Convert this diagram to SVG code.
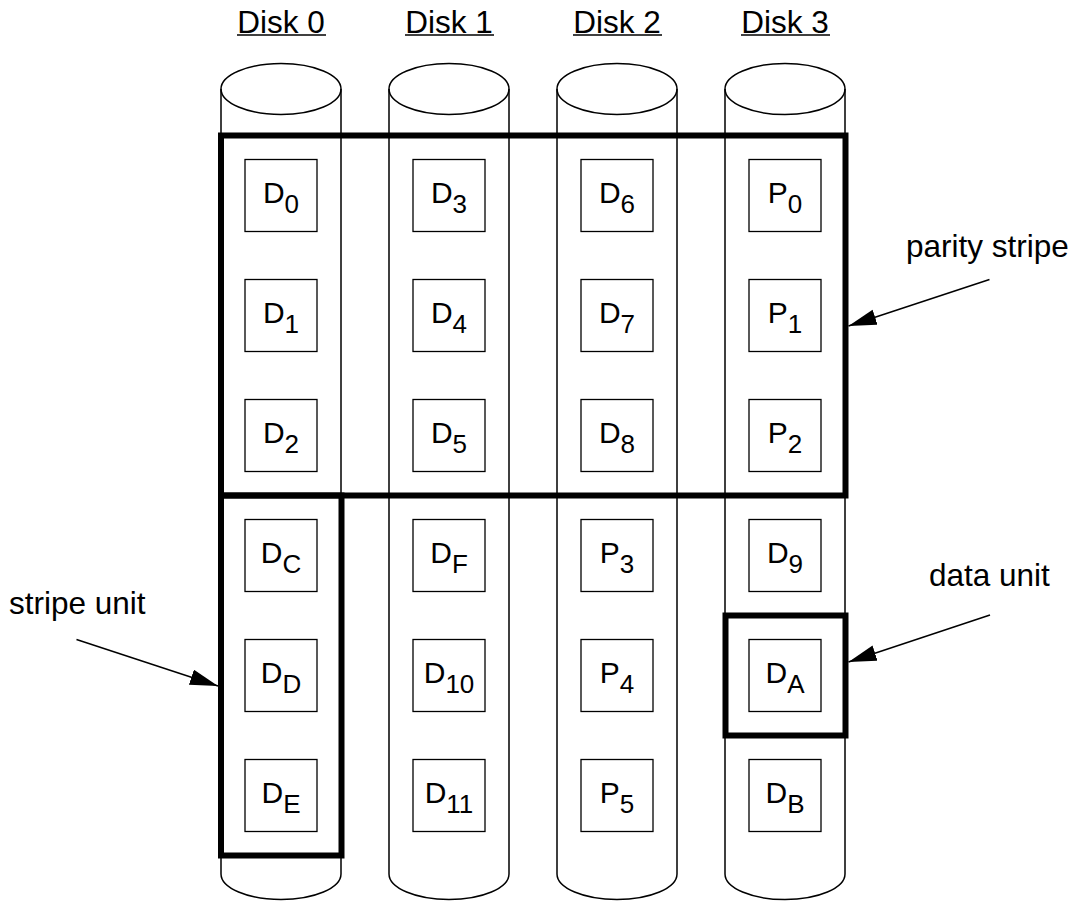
<svg xmlns="http://www.w3.org/2000/svg" width="1075" height="903" viewBox="0 0 1075 903">
<style>
  .cyl { fill: none; stroke: #000; stroke-width: 1.5; }
  .box { fill: #fff; stroke: #000; stroke-width: 1.3; }
  .thick { fill: none; stroke: #000; stroke-width: 6; stroke-linejoin: miter; }
  .lbl { font-family: "Liberation Sans", Arial, sans-serif; font-size: 31.5px; fill: #000; }
  .cell { font-family: "Liberation Sans", Arial, sans-serif; font-size: 30px; fill: #000; text-anchor: middle; }
  .sub { font-size: 26px; }
  .ul { stroke: #000; stroke-width: 1.5; }
  .arr { stroke: #000; stroke-width: 1.5; fill: none; marker-end: url(#ah); }
</style>
<defs>
  <marker id="ah" markerUnits="userSpaceOnUse" markerWidth="30" markerHeight="18" refX="28" refY="8" orient="auto">
    <path d="M0,0 L28,8 L0,16 z" fill="#000"/>
  </marker>
  <g id="cylinder">
    <ellipse cx="0" cy="89" rx="60" ry="25.5" class="cyl"/>
    <path d="M-60,89 V874 A60,25.5 0 0 0 60,874 V89" class="cyl"/>
  </g>
</defs>
<rect width="1075" height="903" fill="#fff"/>

<g id="disk0">
  <text class="lbl" x="281" y="33" text-anchor="middle">Disk 0</text>
  <line class="ul" x1="237" y1="35" x2="326" y2="35"/>
  <use href="#cylinder" x="281"/>
</g>
<g id="disk1">
  <text class="lbl" x="449" y="33" text-anchor="middle">Disk 1</text>
  <line class="ul" x1="405" y1="35" x2="494" y2="35"/>
  <use href="#cylinder" x="449"/>
</g>
<g id="disk2">
  <text class="lbl" x="617" y="33" text-anchor="middle">Disk 2</text>
  <line class="ul" x1="573" y1="35" x2="662" y2="35"/>
  <use href="#cylinder" x="617"/>
</g>
<g id="disk3">
  <text class="lbl" x="785" y="33" text-anchor="middle">Disk 3</text>
  <line class="ul" x1="741" y1="35" x2="830" y2="35"/>
  <use href="#cylinder" x="785"/>
</g>

<g id="cells">
  <!-- column 0 -->
  <g id="cell-D0"><rect class="box" x="245" y="159.5" width="72" height="72"/><text class="cell" x="281" y="202.5">D<tspan class="sub" dy="10">0</tspan></text></g>
  <g id="cell-D1"><rect class="box" x="245" y="279.5" width="72" height="72"/><text class="cell" x="281" y="322.5">D<tspan class="sub" dy="10">1</tspan></text></g>
  <g id="cell-D2"><rect class="box" x="245" y="399.5" width="72" height="72"/><text class="cell" x="281" y="442.5">D<tspan class="sub" dy="10">2</tspan></text></g>
  <g id="cell-DC"><rect class="box" x="245" y="519.5" width="72" height="72"/><text class="cell" x="281" y="562.5">D<tspan class="sub" dy="10">C</tspan></text></g>
  <g id="cell-DD"><rect class="box" x="245" y="639.5" width="72" height="72"/><text class="cell" x="281" y="682.5">D<tspan class="sub" dy="10">D</tspan></text></g>
  <g id="cell-DE"><rect class="box" x="245" y="759.5" width="72" height="72"/><text class="cell" x="281" y="802.5">D<tspan class="sub" dy="10">E</tspan></text></g>
  <!-- column 1 -->
  <g id="cell-D3"><rect class="box" x="413" y="159.5" width="72" height="72"/><text class="cell" x="449" y="202.5">D<tspan class="sub" dy="10">3</tspan></text></g>
  <g id="cell-D4"><rect class="box" x="413" y="279.5" width="72" height="72"/><text class="cell" x="449" y="322.5">D<tspan class="sub" dy="10">4</tspan></text></g>
  <g id="cell-D5"><rect class="box" x="413" y="399.5" width="72" height="72"/><text class="cell" x="449" y="442.5">D<tspan class="sub" dy="10">5</tspan></text></g>
  <g id="cell-DF"><rect class="box" x="413" y="519.5" width="72" height="72"/><text class="cell" x="449" y="562.5">D<tspan class="sub" dy="10">F</tspan></text></g>
  <g id="cell-D10"><rect class="box" x="413" y="639.5" width="72" height="72"/><text class="cell" x="449" y="682.5">D<tspan class="sub" dy="10">10</tspan></text></g>
  <g id="cell-D11"><rect class="box" x="413" y="759.5" width="72" height="72"/><text class="cell" x="449" y="802.5">D<tspan class="sub" dy="10">11</tspan></text></g>
  <!-- column 2 -->
  <g id="cell-D6"><rect class="box" x="581" y="159.5" width="72" height="72"/><text class="cell" x="617" y="202.5">D<tspan class="sub" dy="10">6</tspan></text></g>
  <g id="cell-D7"><rect class="box" x="581" y="279.5" width="72" height="72"/><text class="cell" x="617" y="322.5">D<tspan class="sub" dy="10">7</tspan></text></g>
  <g id="cell-D8"><rect class="box" x="581" y="399.5" width="72" height="72"/><text class="cell" x="617" y="442.5">D<tspan class="sub" dy="10">8</tspan></text></g>
  <g id="cell-P3"><rect class="box" x="581" y="519.5" width="72" height="72"/><text class="cell" x="617" y="562.5">P<tspan class="sub" dy="10">3</tspan></text></g>
  <g id="cell-P4"><rect class="box" x="581" y="639.5" width="72" height="72"/><text class="cell" x="617" y="682.5">P<tspan class="sub" dy="10">4</tspan></text></g>
  <g id="cell-P5"><rect class="box" x="581" y="759.5" width="72" height="72"/><text class="cell" x="617" y="802.5">P<tspan class="sub" dy="10">5</tspan></text></g>
  <!-- column 3 -->
  <g id="cell-P0"><rect class="box" x="749" y="159.5" width="72" height="72"/><text class="cell" x="785" y="202.5">P<tspan class="sub" dy="10">0</tspan></text></g>
  <g id="cell-P1"><rect class="box" x="749" y="279.5" width="72" height="72"/><text class="cell" x="785" y="322.5">P<tspan class="sub" dy="10">1</tspan></text></g>
  <g id="cell-P2"><rect class="box" x="749" y="399.5" width="72" height="72"/><text class="cell" x="785" y="442.5">P<tspan class="sub" dy="10">2</tspan></text></g>
  <g id="cell-D9"><rect class="box" x="749" y="519.5" width="72" height="72"/><text class="cell" x="785" y="562.5">D<tspan class="sub" dy="10">9</tspan></text></g>
  <g id="cell-DA"><rect class="box" x="749" y="639.5" width="72" height="72"/><text class="cell" x="785" y="682.5">D<tspan class="sub" dy="10">A</tspan></text></g>
  <g id="cell-DB"><rect class="box" x="749" y="759.5" width="72" height="72"/><text class="cell" x="785" y="802.5">D<tspan class="sub" dy="10">B</tspan></text></g>
</g>

<g id="parity-stripe">
  <rect class="thick" x="221" y="135.5" width="624.5" height="360"/>
  <text class="lbl" x="906" y="257">parity stripe</text>
</g>
<g id="stripe-unit">
  <rect class="thick" x="221" y="495.5" width="120.5" height="360"/>
  <text class="lbl" x="9" y="614">stripe unit</text>
</g>
<g id="data-unit">
  <rect class="thick" x="725.5" y="615.5" width="120" height="120"/>
  <text class="lbl" x="929" y="586">data unit</text>
</g>

<g id="connectors">
  <line class="arr" x1="989.5" y1="279.5" x2="848.5" y2="326"/>
  <line class="arr" x1="76.5" y1="639.5" x2="218" y2="686"/>
  <line class="arr" x1="990" y1="615" x2="848.5" y2="662"/>
</g>
</svg>
